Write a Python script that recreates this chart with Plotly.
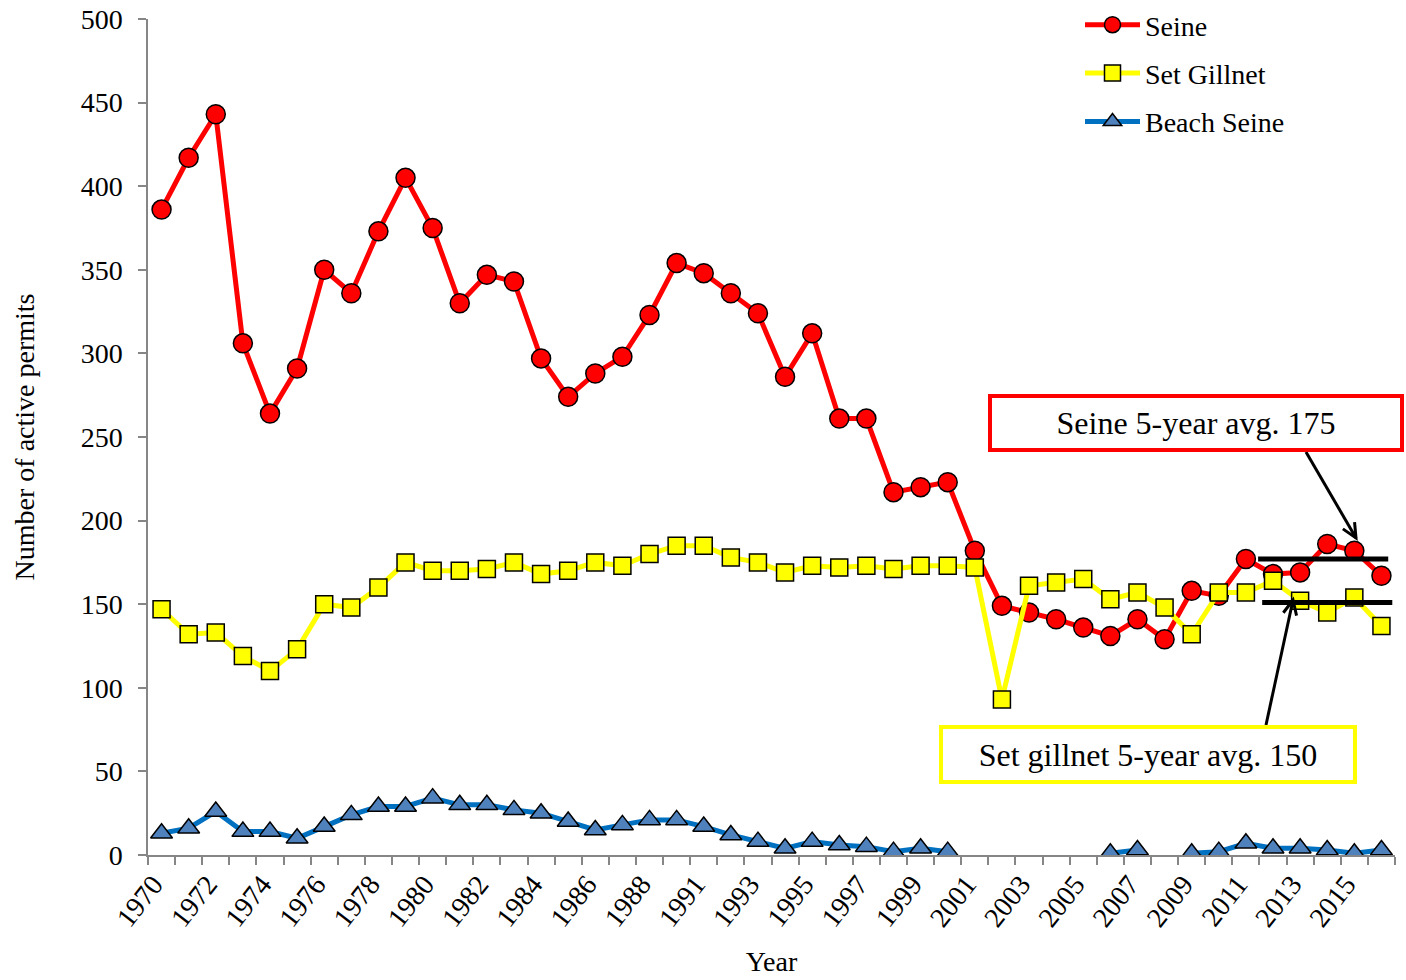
import plotly.graph_objects as go
import math

# ---------------- data ----------------
years = list(range(1970, 1990)) + list(range(1991, 2017))
seine = [386, 417, 443, 306, 264, 291, 350, 336, 373, 405,
         375, 330, 347, 343, 297, 274, 288, 298, 323, 354,
         348, 336, 324, 286, 312, 261, 261, 217, 220, 223,
         182, 149, 145, 141, 136, 131, 141, 129, 158, 155,
         177, 168, 169, 186, 182, 167]
set_gillnet = [147, 132, 133, 119, 110, 123, 150, 148, 160, 175,
               170, 170, 171, 175, 168, 170, 175, 173, 180, 185,
               185, 178, 175, 169, 173, 172, 173, 171, 173, 173,
               172, 93, 161, 163, 165, 153, 157, 148, 132, 157,
               157, 164, 152, 145, 154, 137]
beach_seine = [13, 16, 26, 14, 14, 10, 17, 24, 29, 29,
               34, 30, 30, 27, 25, 20, 15, 18, 21, 21,
               17, 12, 8, 4, 8, 6, 5, 2, 4, 2,
               None, None, None, None, None, 1, 3, None, 1, 2,
               7, 4, 4, 3, 1, 3]
tick_labels = [str(y) for y in years]
seine_avg_label = "Seine 5-year avg. 175"
gillnet_avg_label = "Set gillnet 5-year avg. 150"
seine_avg_line = 177
gillnet_avg_line = 151

# ---------------- figure ----------------
W, H = 1406, 980
L, R, T, B = 148, 11, 19, 125
PW, PH = W - L - R, H - T - B
FONT = "Liberation Serif, Times New Roman, serif"

def px_x(p):
    return (p - L) / PW

def px_y(p):
    return (H - B - p) / PH

idx = list(range(len(years)))

fig = go.Figure()
fig.add_trace(go.Scatter(
    x=idx, y=seine, name="Seine", mode="lines+markers",
    line=dict(color="#FF0000", width=5),
    marker=dict(symbol="circle", size=19, color="#FF0000",
                line=dict(color="black", width=1.5)),
    legendgroup="a"))
fig.add_trace(go.Scatter(
    x=idx, y=set_gillnet, name="Set Gillnet", mode="lines+markers",
    line=dict(color="#FFFF00", width=5),
    marker=dict(symbol="square", size=17, color="#FFFF00",
                line=dict(color="black", width=1.5)),
    legendgroup="b"))
fig.add_trace(go.Scatter(
    x=idx, y=beach_seine, name="Beach Seine", mode="lines+markers",
    connectgaps=False,
    line=dict(color="#0070C0", width=5),
    marker=dict(symbol="triangle-up", size=19, color="#4F81BD",
                line=dict(color="black", width=1.5)),
    legendgroup="c"))

even_idx = [i for i in idx if i % 2 == 0]
fig.update_xaxes(
    range=[-0.5, len(years) - 0.5], automargin=False,
    tickmode="array", tickvals=[i - 0.3 for i in even_idx],
    ticktext=[tick_labels[i] for i in even_idx],
    tickangle=-52, ticks="", showgrid=False, zeroline=False,
    showline=True, linecolor="#868686", linewidth=1.5,
    tickfont=dict(family=FONT, size=28, color="black"),
    ticklabelstandoff=0,
    minor=dict(tickmode="linear", tick0=-0.5, dtick=1, ticks="outside",
               ticklen=8, tickcolor="#868686", tickwidth=1.5, showgrid=False),
    title=dict(text="Year", font=dict(family=FONT, size=28, color="black"),
               standoff=20),
)
fig.update_yaxes(
    range=[0, 500], automargin=False, tickmode="linear", tick0=0, dtick=50,
    ticks="outside", ticklen=8, tickcolor="#868686", tickwidth=1.5,
    showgrid=False, zeroline=False,
    showline=True, linecolor="#868686", linewidth=1.5,
    tickfont=dict(family=FONT, size=28, color="black"),
    ticklabelstandoff=10,
    title=dict(text="Number of active permits",
               font=dict(family=FONT, size=28, color="black"), standoff=38),
)

shapes = [
    dict(type="line", xref="x", yref="y", x0=40.45, x1=45.25,
         y0=seine_avg_line, y1=seine_avg_line, line=dict(color="black", width=5)),
    dict(type="line", xref="x", yref="y", x0=40.6, x1=45.4,
         y0=gillnet_avg_line, y1=gillnet_avg_line, line=dict(color="black", width=5)),
]

def arrow(x0, y0, x1, y1, head=16):
    ang = math.atan2(y1 - y0, x1 - x0)
    spread = math.radians(25)
    pts = []
    for s in (-spread, spread):
        pts.append((x1 - head * math.cos(ang + s), y1 - head * math.sin(ang + s)))
    out = [dict(type="line", xref="paper", yref="paper",
                x0=px_x(x0), y0=px_y(y0), x1=px_x(x1), y1=px_y(y1),
                line=dict(color="black", width=3))]
    path = "M {} {} L {} {} L {} {}".format(
        px_x(pts[0][0]), px_y(pts[0][1]), px_x(x1), px_y(y1),
        px_x(pts[1][0]), px_y(pts[1][1]))
    out.append(dict(type="path", xref="paper", yref="paper", path=path,
                    line=dict(color="black", width=3)))
    return out

shapes += arrow(1306, 452, 1356, 538)
shapes += arrow(1266, 725, 1293, 600)

annotations = [
    dict(xref="paper", yref="paper", x=px_x(1196), y=px_y(423),
         text=seine_avg_label, showarrow=False,
         font=dict(family=FONT, size=32, color="black"),
         bordercolor="#FF0000", borderwidth=4, borderpad=0,
         bgcolor="white", width=408, height=50,
         xanchor="center", yanchor="middle"),
    dict(xref="paper", yref="paper", x=px_x(1148), y=px_y(754),
         text=gillnet_avg_label, showarrow=False,
         font=dict(family=FONT, size=32, color="black"),
         bordercolor="#FFFF00", borderwidth=4, borderpad=0,
         bgcolor="white", width=410, height=51,
         xanchor="center", yanchor="middle"),
]

fig.update_layout(
    width=W, height=H,
    margin=dict(l=L, r=R, t=T, b=B, autoexpand=False),
    paper_bgcolor="white", plot_bgcolor="white",
    font=dict(family=FONT, size=28, color="black"),
    shapes=shapes, annotations=annotations,
    legend=dict(xref="container", yref="container",
                x=1080 / W, y=1.008, xanchor="left", yanchor="top",
                bgcolor="rgba(0,0,0,0)", font=dict(family=FONT, size=28),
                itemwidth=55, tracegroupgap=9, traceorder="grouped"),
)

fig.write_html("out.html",
               config={"displayModeBar": False},
               post_script="document.body.style.margin='0px';"
                           "document.body.style.overflow='hidden';")
